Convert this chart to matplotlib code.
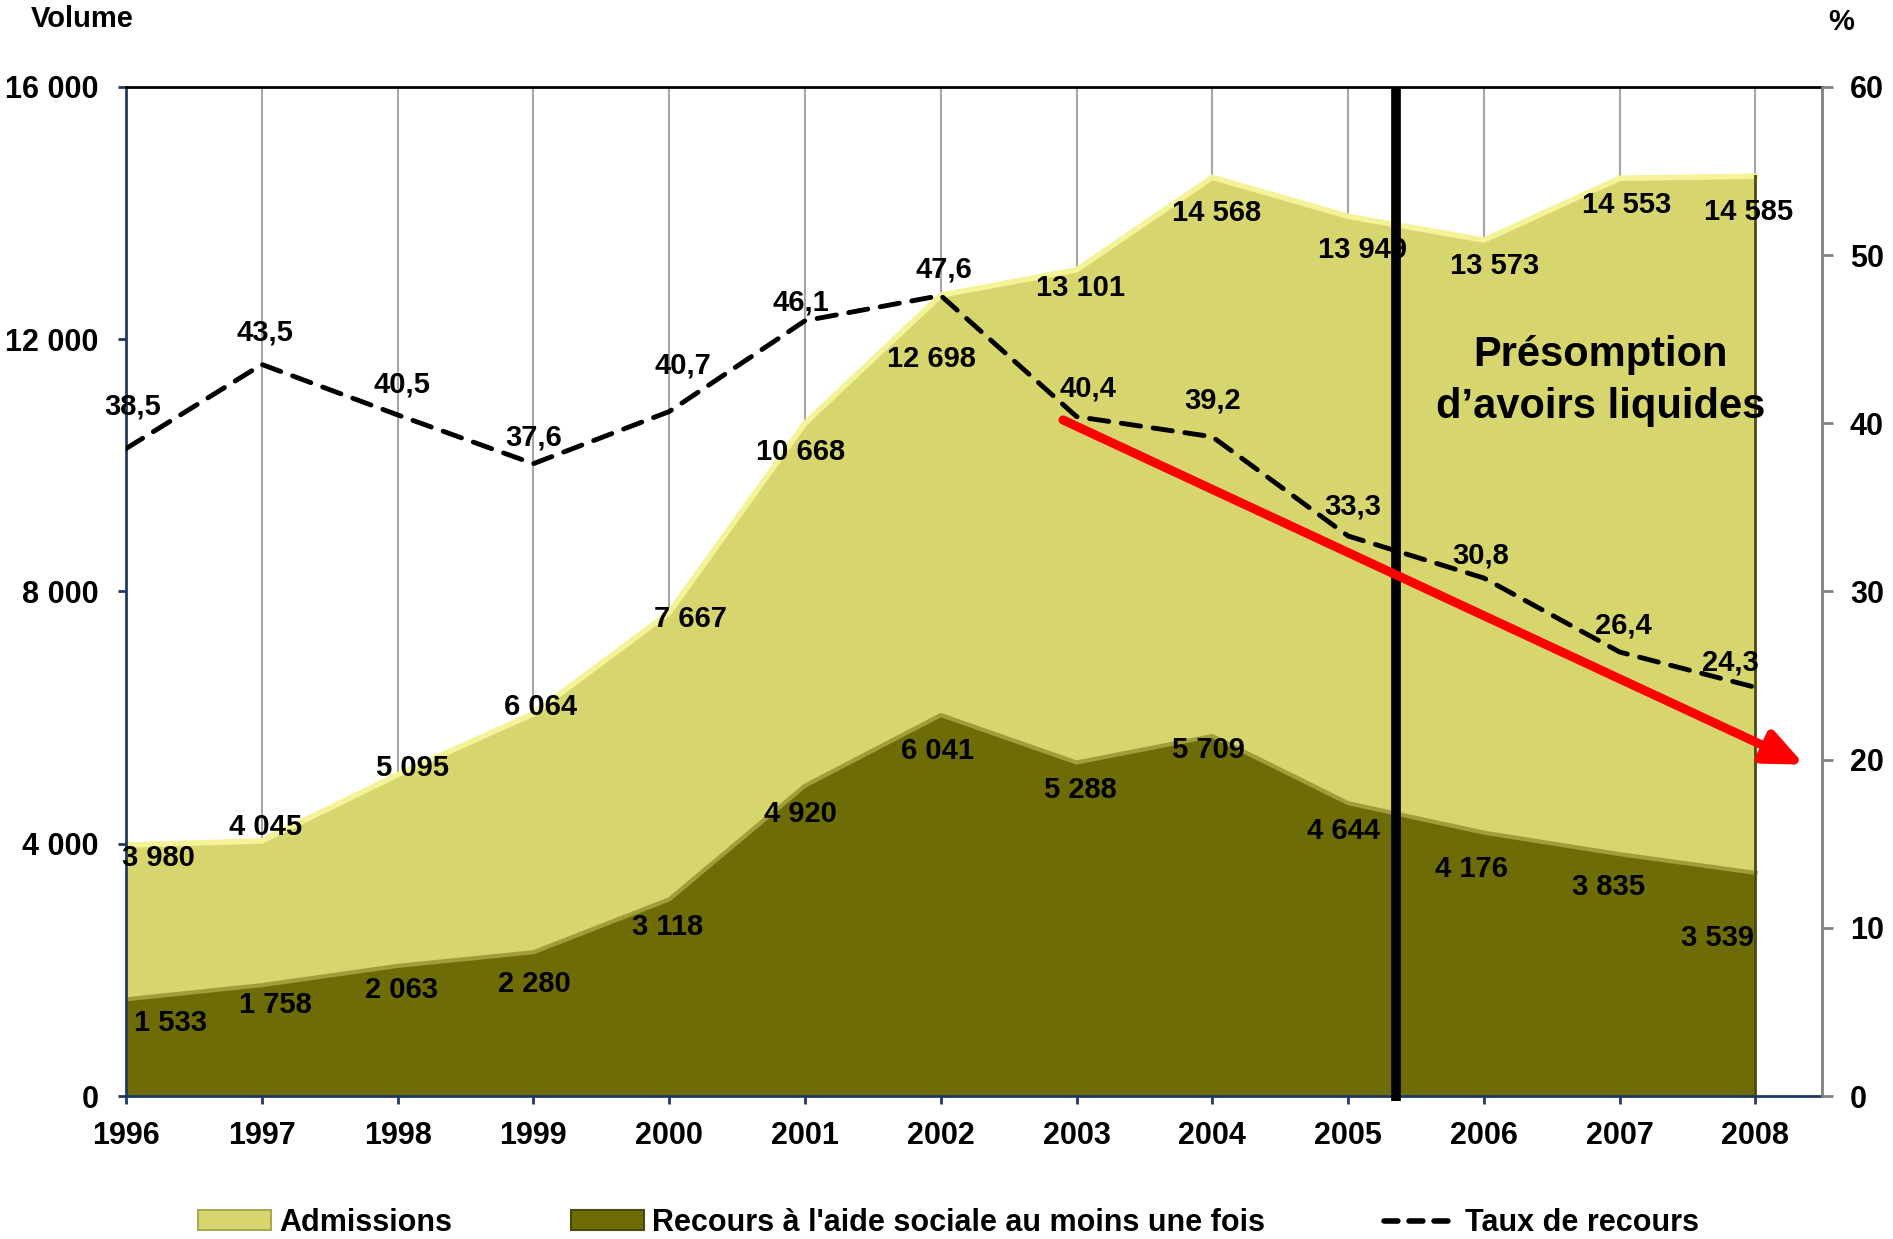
import matplotlib
matplotlib.use('Agg')
import matplotlib.pyplot as plt
from matplotlib import font_manager
from matplotlib.patches import Patch
from matplotlib.lines import Line2D
from matplotlib.ticker import FuncFormatter

# data
years = [1996, 1997, 1998, 1999, 2000, 2001, 2002, 2003, 2004, 2005, 2006, 2007, 2008]
admissions = [3980, 4045, 5095, 6064, 7667, 10668, 12698, 13101, 14568, 13949, 13573, 14553, 14585]
recours = [1533, 1758, 2063, 2280, 3118, 4920, 6041, 5288, 5709, 4644, 4176, 3835, 3539]
taux = [38.5, 43.5, 40.5, 37.6, 40.7, 46.1, 47.6, 40.4, 39.2, 33.3, 30.8, 26.4, 24.3]
series_names = ['Admissions', "Recours à l'aide sociale au moins une fois", 'Taux de recours']
cutoff_year = 2005.35
trend_start = (2002.9, 40.2)
trend_end = (2008.36, 19.7)
note = 'Présomption\nd’avoirs liquides'

# label offsets (points) -- layout only
adm_off = [(23, -9), (3, 10), (11, 5), (5, 5), (15, -5), (-3, -21), (-7, -46), (3, -13),
           (3, -26), (10, -24), (8, -19), (5, -19), (-5, -26)]
rec_off = [(32, -17), (10, -14), (3, -17), (1, -23), (-1, -20), (-3, -20), (-2, -26), (3, -20),
           (-3, -10), (-3, -20), (-9, -26), (-8, -24), (-27, -47)]
taux_off = [(5, 30), (2, 23), (3, 22), (0, 19), (10, 33), (-3, 13), (2, 19), (8, 20),
            (0, 26), (3, 21), (-2, 16), (3, 19), (-18, 18)]

c_adm = '#D7D66E'
c_adm_edge = '#F4F39A'
c_rec = '#6E6C06'
c_rec_edge = '#A09E3A'

available = {f.name for f in font_manager.fontManager.ttflist}
narrow = 'Liberation Sans Narrow' if 'Liberation Sans Narrow' in available else 'Liberation Sans'
plt.rcParams['font.family'] = ['Liberation Sans', 'DejaVu Sans']
plt.rcParams['font.weight'] = 'bold'


def fmt_int(v):
    return '{:,}'.format(int(v)).replace(',', ' ')


fig = plt.figure(figsize=(18.93, 12.39), dpi=100)
ax = fig.add_axes([0.0666, 0.1154, 0.8959, 0.8144])

for y in years:
    ax.axvline(y, color='#A6A6A6', lw=1.5, zorder=0)

ax.fill_between(years, 0, admissions, color=c_adm, zorder=1, lw=0)
ax.plot(years, admissions, color=c_adm_edge, lw=4, zorder=1.5, solid_joinstyle='round')
ax.fill_between(years, 0, recours, color=c_rec, zorder=2, lw=0)
ax.plot(years, recours, color=c_rec_edge, lw=3, zorder=2.5, solid_joinstyle='round')
ax.plot([years[-1], years[-1]], [0, admissions[-1]], color='#4A4A10', lw=2, zorder=2.6)

for x, v, off in zip(years, admissions, adm_off):
    ax.annotate(fmt_int(v), (x, v), xytext=off, textcoords='offset points',
                ha='center', va='center', fontsize=21, fontweight='bold', zorder=5)
for x, v, off in zip(years, recours, rec_off):
    ax.annotate(fmt_int(v), (x, v), xytext=off, textcoords='offset points',
                ha='center', va='center', fontsize=21, fontweight='bold', zorder=5)

ax.set_xlim(1996, 2008.49)
ax.set_ylim(0, 16000)
ax.set_xticks(years)
ax.set_yticks([0, 4000, 8000, 12000, 16000])
ax.yaxis.set_major_formatter(FuncFormatter(lambda v, p: fmt_int(v)))
ax.tick_params(axis='x', labelsize=22, colors='#1F3864', length=6, width=2, pad=12, labelcolor='black')
ax.tick_params(axis='y', labelsize=22, colors='#1F3864', length=6, width=2, pad=14, labelcolor='black')
ax.spines['left'].set_color('#1F3864')
ax.spines['left'].set_linewidth(2)
ax.spines['bottom'].set_color('#1F3864')
ax.spines['bottom'].set_linewidth(2)
ax.spines['top'].set_color('black')
ax.spines['top'].set_linewidth(2)
ax.spines['right'].set_visible(False)

ax2 = ax.twinx()
ax2.set_ylim(0, 60)
ax2.set_yticks(range(0, 61, 10))
ax2.tick_params(axis='y', labelsize=22, colors='#808080', length=8, width=2, pad=12, labelcolor='black')
ax2.spines['right'].set_color('#808080')
ax2.spines['right'].set_linewidth(2)
for s in ['left', 'top', 'bottom']:
    ax2.spines[s].set_visible(False)

ax2.plot(years, taux, color='black', lw=3.5, ls=(0, (4, 2.6)), dash_capstyle='round', zorder=3)
for x, v, off in zip(years, taux, taux_off):
    ax2.annotate('{:.1f}'.format(v).replace('.', ','), (x, v), xytext=off,
                 textcoords='offset points', ha='center', va='center',
                 fontsize=21, fontweight='bold', zorder=5)

ax2.axvline(cutoff_year, ymin=-0.005, ymax=1, color='black', lw=7, zorder=4,
            clip_on=False, solid_capstyle='butt')
ax2.annotate('', xy=trend_end, xytext=trend_start,
             arrowprops=dict(arrowstyle='-|>,head_length=1.15,head_width=0.5', color='#FF0000',
                             lw=6.5, mutation_scale=20, shrinkA=0, shrinkB=0), zorder=4)
ax2.text(2006.86, 42.5, note, ha='center', va='center', fontsize=30,
         fontweight='bold', linespacing=1.4, zorder=5)

fig.text(82 / 1893, 1 - 19 / 1239, 'Volume', ha='center', va='center', fontsize=21, fontweight='bold')
fig.text(1841 / 1893, 1 - 22 / 1239, '%', ha='center', va='center', fontsize=21, fontweight='bold')

handles = [Patch(facecolor=c_adm, edgecolor='#A8A850', lw=1.5),
           Patch(facecolor=c_rec, edgecolor='#4A4A10', lw=1.5),
           Line2D([0], [0], color='black', lw=4, ls=(0, (2.5, 2)), dash_capstyle='round')]
fig.legend(handles, series_names, loc='center', bbox_to_anchor=(0.501, 0.013), ncol=3,
           frameon=False, prop={'family': narrow, 'weight': 'bold', 'size': 22},
           handlelength=2.4, handleheight=0.6, handletextpad=0.25, columnspacing=3.9)

fig.savefig('out.png', dpi=100)
